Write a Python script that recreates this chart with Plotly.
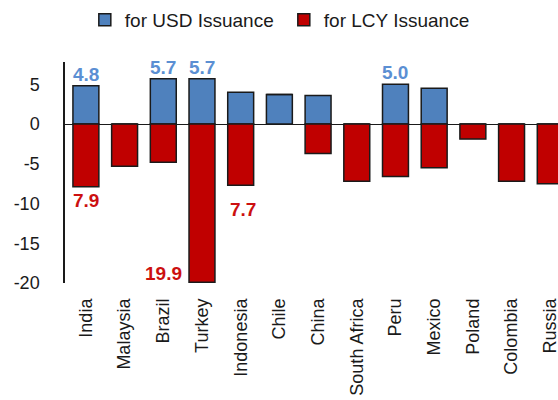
import plotly.graph_objects as go

countries = ["India", "Malaysia", "Brazil", "Turkey", "Indonesia", "Chile", "China",
             "South Africa", "Peru", "Mexico", "Poland", "Colombia", "Russia"]
usd = [4.8, 0.0, 5.7, 5.7, 4.0, 3.7, 3.6, 0.0, 5.0, 4.5, 0.0, 0.0, 0.0]
lcy = [-7.9, -5.3, -4.8, -19.9, -7.7, 0.0, -3.7, -7.2, -6.6, -5.5, -1.9, -7.2, -7.5]

y_tickvals = [5, 0, -5, -10, -15, -20]
y_ticktext = ["5", "0", "-5", "-10", "-15", "-20"]

usd_labels = {"India": "4.8", "Brazil": "5.7", "Turkey": "5.7", "Peru": "5.0"}
lcy_labels = {"India": "7.9", "Indonesia": "7.7", "Turkey": "19.9"}

FONT = "Arial, Liberation Sans, sans-serif"
BLUE = "#4F81BD"
RED = "#C00000"
LBL_BLUE = "#5B8FD3"
LBL_RED = "#CC1010"

fig = go.Figure()
fig.add_trace(go.Bar(x=countries, y=usd, name="for USD Issuance",
                     marker=dict(color=BLUE, line=dict(color="#1a1a1a", width=1.5))))
fig.add_trace(go.Bar(x=countries, y=lcy, name="for LCY Issuance",
                     marker=dict(color=RED, line=dict(color="#1a1a1a", width=1.5))))

ann = []
for c, t in usd_labels.items():
    i = countries.index(c)
    ann.append(dict(x=c, y=usd[i], text=t, showarrow=False, yanchor="bottom", yshift=-1,
                    font=dict(family=FONT, size=19, color=LBL_BLUE, weight="bold")))
for c, t in lcy_labels.items():
    i = countries.index(c)
    if c == "Turkey":
        ann.append(dict(x=c, y=lcy[i], text=t, showarrow=False, xanchor="right", yanchor="bottom",
                        xshift=-18, yshift=-4,
                        font=dict(family=FONT, size=19, color=LBL_RED, weight="bold")))
    elif c == "Indonesia":
        ann.append(dict(x=c, y=lcy[i], text=t, showarrow=False, yanchor="top", yshift=-12, xshift=2,
                        font=dict(family=FONT, size=19, color=LBL_RED, weight="bold")))
    else:
        ann.append(dict(x=c, y=lcy[i], text=t, showarrow=False, yanchor="top", yshift=-1,
                        font=dict(family=FONT, size=19, color=LBL_RED, weight="bold")))

fig.update_layout(
    width=558, height=400,
    barmode="relative", bargap=0.33,
    plot_bgcolor="white", paper_bgcolor="white",
    margin=dict(l=65, r=0, t=62, b=117, autoexpand=False),
    font=dict(family=FONT, size=18, color="#1a1a1a"),
    annotations=ann,
    showlegend=True,
    legend=dict(orientation="h", xref="container", yref="container",
                x=0.152, xanchor="left", y=1 - 20 / 400, yanchor="middle",
                font=dict(family=FONT, size=19, color="#1a1a1a"),
                entrywidth=154, entrywidthmode="pixels", itemwidth=30,
                bgcolor="rgba(0,0,0,0)"),
    xaxis=dict(range=[-0.54, 12.2], tickangle=-90, showgrid=False, showline=False,
               ticks="", ticklabelstandoff=11, tickfont=dict(size=18), automargin=False),
    yaxis=dict(range=[-20, 7.8], tickvals=y_tickvals, ticktext=y_ticktext, showgrid=False,
               showline=True, linecolor="#1a1a1a", linewidth=1.5, ticks="",
               zeroline=True, zerolinecolor="#1a1a1a", zerolinewidth=1.2,
               ticklabelstandoff=20, tickfont=dict(size=18), automargin=False),
)

fig.write_html("out.html", config={"displayModeBar": False},
               post_script="document.body.style.margin='0';document.body.style.overflow='hidden';")
